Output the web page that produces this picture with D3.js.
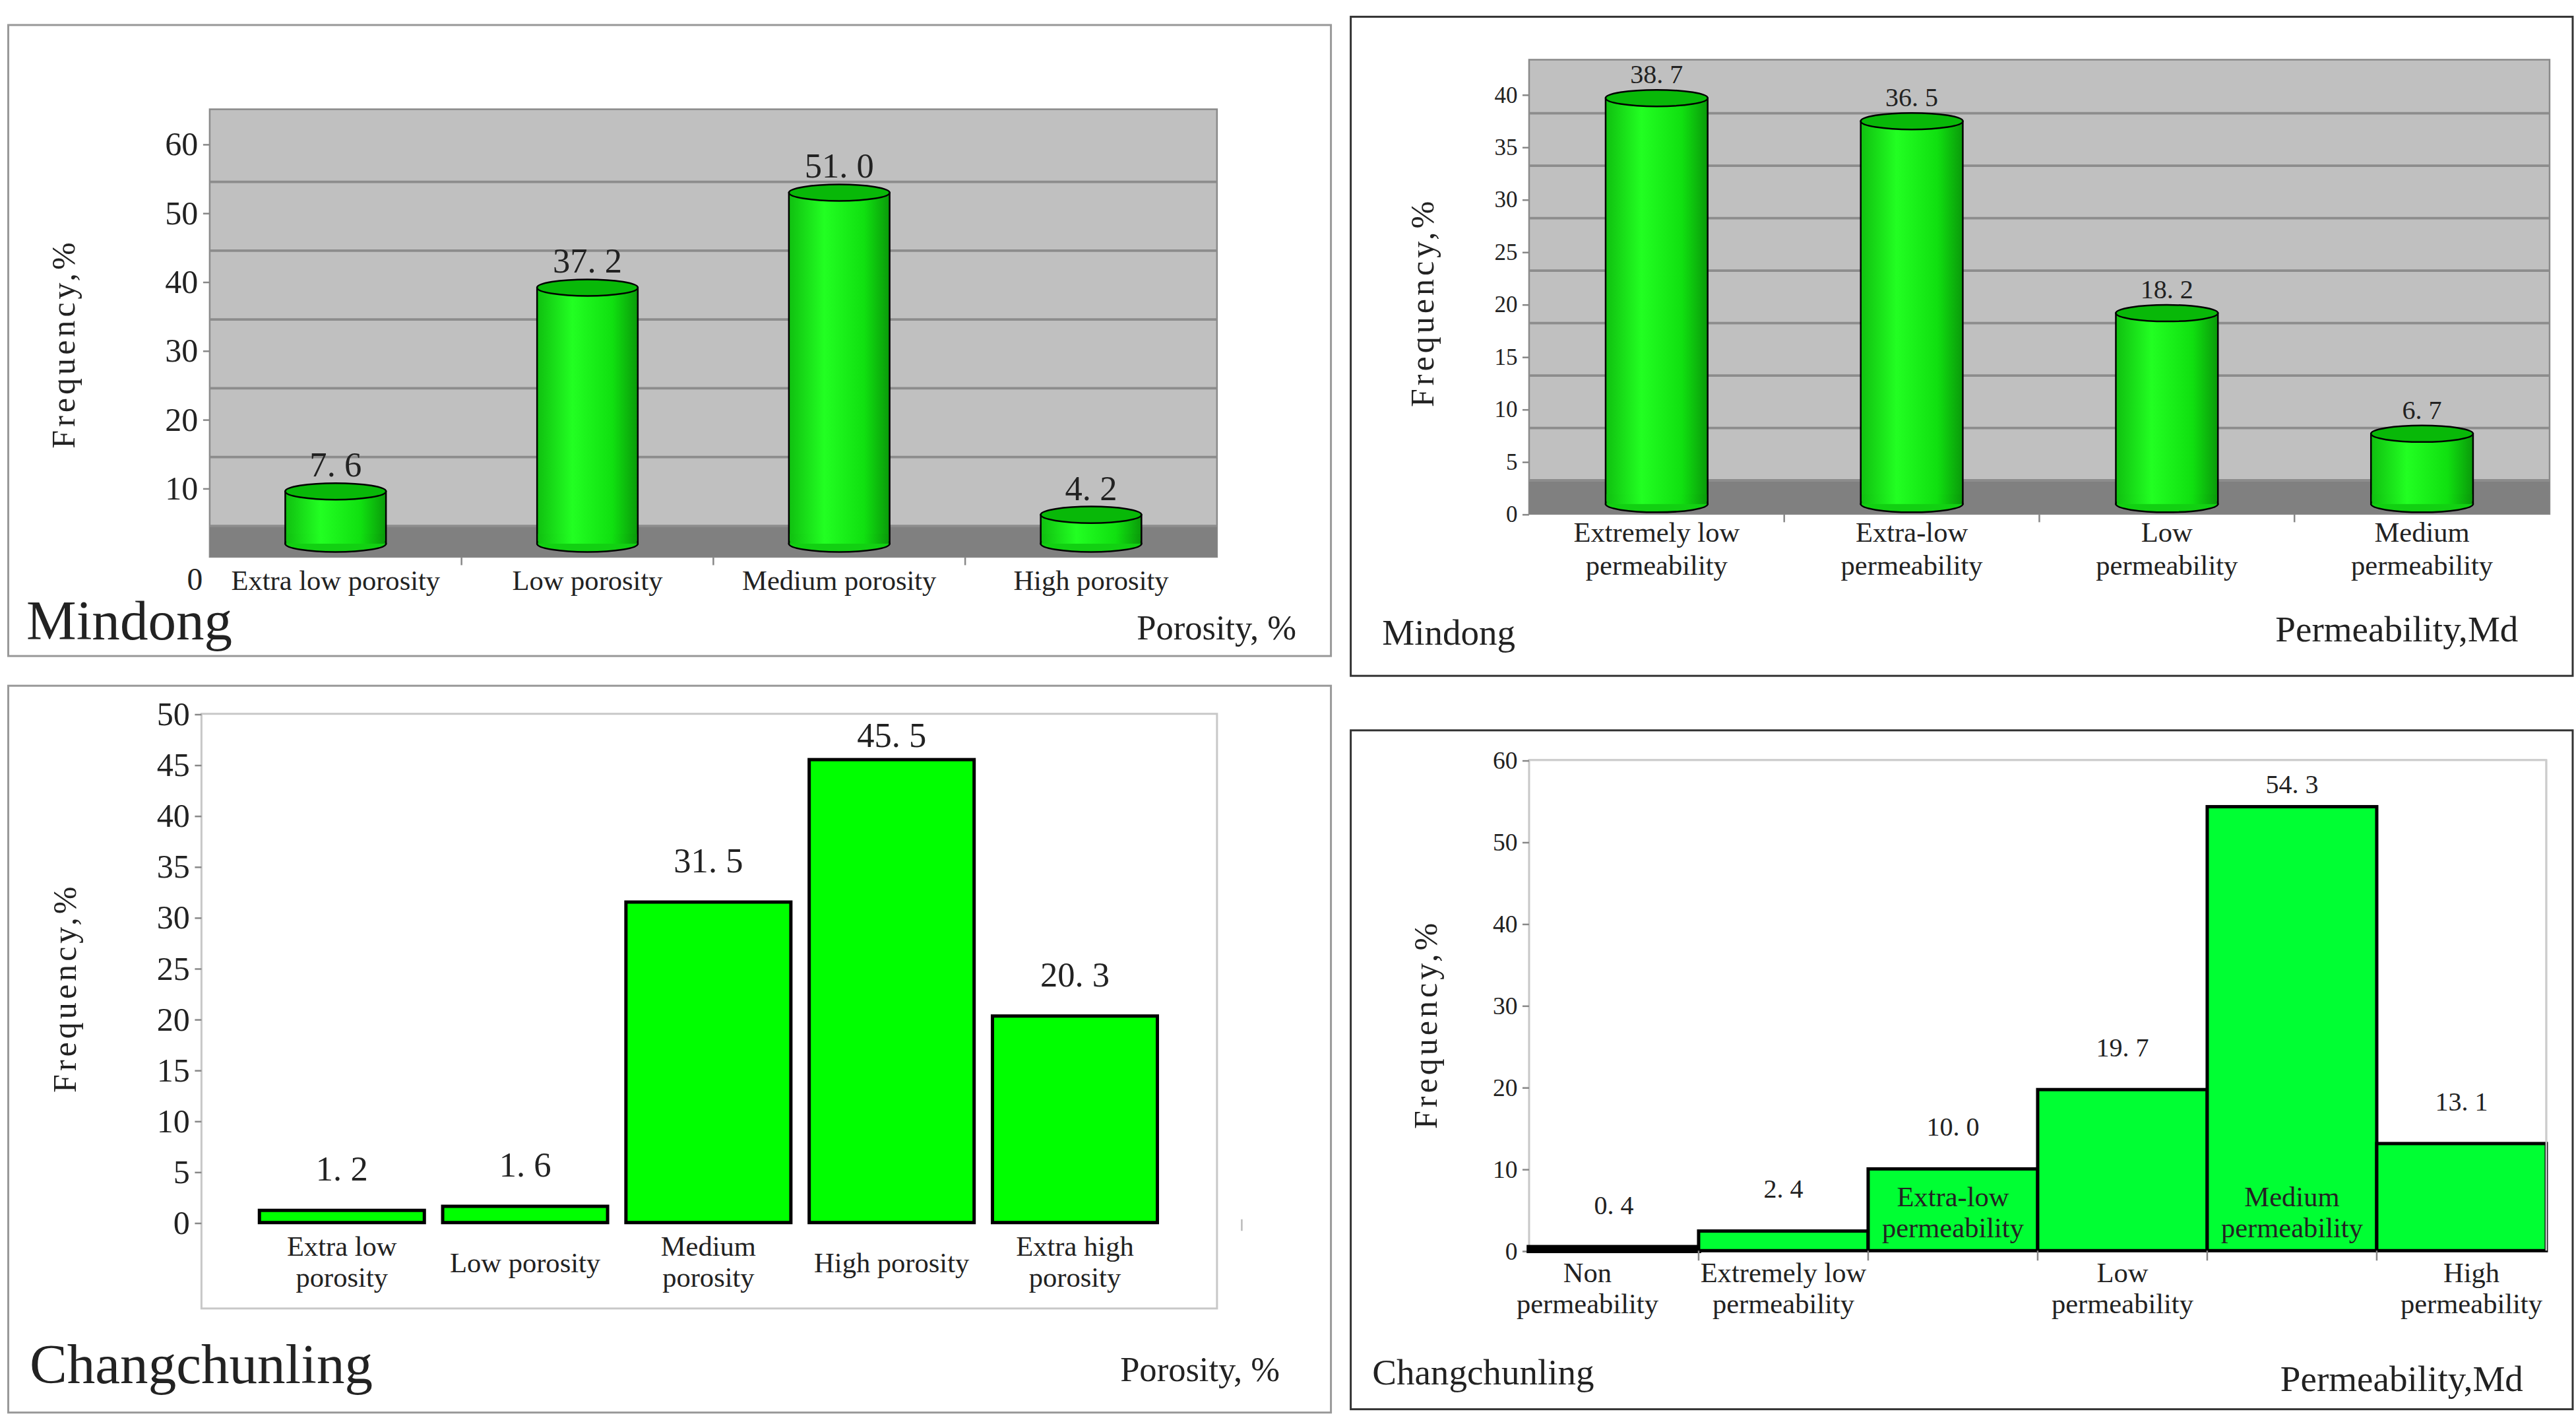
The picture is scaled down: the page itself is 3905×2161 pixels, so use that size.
<!DOCTYPE html>
<html><head><meta charset="utf-8">
<script src="https://cdnjs.cloudflare.com/ajax/libs/d3/7.8.5/d3.min.js"></script>
<style>body{margin:0;background:#fff}svg{display:block}text{font-family:"Liberation Serif","DejaVu Serif",serif;fill:#222}</style>
</head><body>
<script>
// data
var mdPoroCats = [["Extra  low porosity"],["Low porosity"],["Medium porosity"],["High porosity"]];
var mdPoroVals = [7.6, 37.2, 51.0, 4.2];
var mdPermCats = [["Extremely low","permeability"],["Extra-low","permeability"],["Low","permeability"],["Medium","permeability"]];
var mdPermVals = [38.7, 36.5, 18.2, 6.7];
var ccPoroCats = [["Extra  low","porosity"],["Low porosity"],["Medium","porosity"],["High porosity"],["Extra high","porosity"]];
var ccPoroVals = [1.2, 1.6, 31.5, 45.5, 20.3];
var ccPermCats = [["Non","permeability"],["Extremely low","permeability"],["Extra-low","permeability"],["Low","permeability"],["Medium","permeability"],["High","permeability"]];
var ccPermVals = [0.4, 2.4, 10.0, 19.7, 54.3, 13.1];
var ccPermInside = [false, false, true, false, true, false];

var svg = d3.select("body").append("svg").attr("width",3905).attr("height",2161).attr("viewBox","0 0 1560 863");
var defs = svg.append("defs");
var gr = defs.append("linearGradient").attr("id","cyl");
gr.append("stop").attr("offset","0%").attr("stop-color","#10c010");
gr.append("stop").attr("offset","35%").attr("stop-color","#22ff22");
gr.append("stop").attr("offset","75%").attr("stop-color","#10e010");
gr.append("stop").attr("offset","100%").attr("stop-color","#0a9a0a");

function frame(x,y,w,h,col){
  svg.append("rect").attr("x",x).attr("y",y).attr("width",w).attr("height",h).attr("fill","#fff").attr("stroke",col).attr("stroke-width",1.2);
}
function txt(x,y,s,fs,anchor){
  return svg.append("text").attr("x",x).attr("y",y).attr("text-anchor",anchor||"start").style("font-size",fs+"px").text(s);
}
function yLabel(x,y){
  svg.append("text").attr("transform","translate("+x+","+y+") rotate(-90)").attr("text-anchor","middle")
    .style("font-size","20px").style("letter-spacing","2px").text("Frequency,%");
}
function fmt(v){ return d3.format(".1f")(v).replace(".", ". "); }
function catLabels(x, cats, y0, lh, fs){
  cats.forEach(function(lines,i){
    lines.forEach(function(l,j){
      txt(x(i)+x.bandwidth()/2, y0+j*lh, l, fs, "middle");
    });
  });
}
function styleAxis(ax, fs){
  ax.select(".domain").remove();
  ax.selectAll("line").attr("stroke","#888");
  ax.selectAll("text").style("font-size",fs+"px").attr("font-family","Liberation Serif").attr("fill","#222");
}

// cylinder chart (Mindong)
function cylChart(o){
  var x = d3.scaleBand().domain(d3.range(o.vals.length)).range([o.x0,o.x1]);
  var y = d3.scaleLinear().domain([0,o.max]).range([o.y0,o.yTop]);
  var g = svg.append("g");
  g.append("rect").attr("x",o.x0).attr("y",o.plotTop).attr("width",o.x1-o.x0).attr("height",o.y0-o.plotTop).attr("fill","#c0c0c0").attr("stroke","#8a8a8a");
  g.append("rect").attr("x",o.x0).attr("y",y(o.band)).attr("width",o.x1-o.x0).attr("height",o.y0-y(o.band)).attr("fill","#808080");
  g.selectAll(".gl").data(o.grid).enter().append("line").attr("x1",o.x0).attr("x2",o.x1)
    .attr("y1",function(d){return y(d);}).attr("y2",function(d){return y(d);}).attr("stroke","#8c8c8c").attr("stroke-width",1.5);
  g.selectAll(".tk").data(d3.range(1,o.vals.length)).enter().append("line")
    .attr("x1",function(d){return x(d);}).attr("x2",function(d){return x(d);})
    .attr("y1",o.y0).attr("y2",o.y0+5).attr("stroke","#888");
  var ax = g.append("g").attr("transform","translate("+o.x0+",0)").call(d3.axisLeft(y).tickValues(o.ticks).tickSize(4).tickFormat(d3.format("d")));
  styleAxis(ax, o.tickFs);
  var ry = 5, s = o.shift, w = x.bandwidth()*o.wf;
  var bars = g.selectAll(".b").data(o.vals).enter().append("g");
  bars.append("rect").attr("x",function(d,i){return x(i)+(x.bandwidth()-w)/2;}).attr("y",function(d){return y(d)-s;})
    .attr("width",w).attr("height",function(d){return y(0)-y(d);}).attr("fill","url(#cyl)").attr("stroke","#000").attr("stroke-width",1);
  bars.append("ellipse").attr("cx",function(d,i){return x(i)+x.bandwidth()/2;}).attr("cy",function(d){return y(0)-s;})
    .attr("rx",w/2).attr("ry",ry).attr("fill","#12d012").attr("stroke","#000");
  bars.append("rect").attr("x",function(d,i){return x(i)+(x.bandwidth()-w)/2+0.6;}).attr("y",function(d){return y(0)-s-ry-1;})
    .attr("width",w-1.2).attr("height",ry+1).attr("fill","url(#cyl)");
  bars.append("ellipse").attr("cx",function(d,i){return x(i)+x.bandwidth()/2;}).attr("cy",function(d){return y(d)-s;})
    .attr("rx",w/2).attr("ry",ry).attr("fill","#08b808").attr("stroke","#000");
  bars.append("text").attr("x",function(d,i){return x(i)+x.bandwidth()/2;}).attr("y",function(d){return Math.max(y(d)-s-ry-4, o.plotTop+13);})
    .attr("text-anchor","middle").style("font-size",o.valFs+"px").text(function(d){return fmt(d);});
  return {x:x,y:y};
}

// flat bar chart (Changchunling)
function flatChart(o){
  var x = d3.scaleBand().domain(d3.range(o.vals.length)).range([o.x0,o.x1]).paddingInner(o.pad).paddingOuter(o.padOut);
  var y = d3.scaleLinear().domain([0,o.max]).range([o.y0,o.yTop]);
  var g = svg.append("g");
  g.append("rect").attr("x",o.fx0).attr("y",o.fy0).attr("width",o.fx1-o.fx0).attr("height",o.fy1-o.fy0).attr("fill","none").attr("stroke","#c8c8c8").attr("stroke-width",1.2);
  var ax = g.append("g").attr("transform","translate("+o.fx0+",0)").call(d3.axisLeft(y).tickValues(o.ticks).tickSize(4).tickFormat(d3.format("d")));
  styleAxis(ax, o.tickFs);
  g.selectAll(".b").data(o.vals).enter().append("rect")
    .attr("x",function(d,i){return x(i);}).attr("y",function(d){return y(d);})
    .attr("width",x.bandwidth()).attr("height",function(d){return y(0)-y(d);})
    .attr("fill",o.fill).attr("stroke","#000").attr("stroke-width",function(d){return d<1?3:2;});
  g.selectAll(".v").data(o.vals).enter().append("text")
    .attr("x",function(d,i){return x(i)+x.bandwidth()/2;}).attr("y",function(d){return Math.max(y(d)-o.valGap, o.fy0+20);})
    .attr("text-anchor","middle").style("font-size",o.valFs+"px").text(function(d){return fmt(d);});
  return {x:x,y:y};
}

// ---------- Panel 1: Mindong porosity ----------
frame(5,15,801,382,"#999");
var p1 = cylChart({vals:mdPoroVals,x0:127,x1:737,y0:337,yTop:87,max:60,plotTop:66,band:4.5,
  grid:[4.5,14.5,24.5,34.5,44.5,54.5],ticks:[10,20,30,40,50,60],shift:8,wf:0.4,tickFs:20,valFs:21});
txt(118,357,"0",19,"middle");
catLabels(p1.x, mdPoroCats, 357, 20, 17);
yLabel(45,208);
txt(16,387,"Mindong",34);
txt(785,387,"Porosity, %",21,"end");

// ---------- Panel 2: Mindong permeability ----------
frame(818,10,740,399,"#333");
var p2 = cylChart({vals:mdPermVals,x0:926,x1:1544,y0:311,yTop:57,max:40,plotTop:36,band:3.2,
  grid:[3.2,8.2,13.2,18.2,23.2,28.2,33.2,38.2],ticks:[0,5,10,15,20,25,30,35,40],shift:6,wf:0.4,tickFs:14,valFs:16});
catLabels(p2.x, mdPermCats, 328, 20, 17);
yLabel(868,183);
txt(837,390,"Mindong",22);
txt(1525,388,"Permeability,Md",22,"end");

// ---------- Panel 3: Changchunling porosity ----------
frame(5,415,801,440,"#999");
var p3 = flatChart({vals:ccPoroVals,x0:146,x1:712,pad:0.1,padOut:0.1,y0:740,yTop:432,max:50,
  fx0:122,fx1:737,fy0:432,fy1:792,ticks:d3.range(0,51,5),tickFs:20,valFs:21,valGap:18,fill:"#00ff00"});
svg.append("line").attr("x1",752).attr("x2",752).attr("y1",738).attr("y2",745).attr("stroke","#bbb");
ccPoroCats.forEach(function(lines,i){
  var x = p3.x, y0 = lines.length===1 ? 770 : 760;
  lines.forEach(function(l,j){ txt(x(i)+x.bandwidth()/2, y0+j*19, l, 17, "middle"); });
});
yLabel(46,598);
txt(18,837,"Changchunling",34);
txt(775,836,"Porosity, %",21,"end");

// ---------- Panel 4: Changchunling permeability ----------
frame(818,442,740,411,"#333");
var p4 = flatChart({vals:ccPermVals,x0:926,x1:1542,pad:0,padOut:0,y0:757,yTop:460,max:60,
  fx0:926,fx1:1542,fy0:460,fy1:757,ticks:[0,10,20,30,40,50,60],tickFs:15,valFs:16,valGap:20,fill:"#00ff33"});
svg.select("g:last-of-type").select("rect").attr("stroke","none");
svg.append("line").attr("x1",926).attr("x2",1542).attr("y1",460).attr("y2",460).attr("stroke","#ccc");
svg.append("line").attr("x1",1542).attr("x2",1542).attr("y1",460).attr("y2",757).attr("stroke","#ccc");
svg.selectAll(".xt").data(d3.range(1,ccPermVals.length)).enter().append("line")
  .attr("x1",function(d){return p4.x(d);}).attr("x2",function(d){return p4.x(d);})
  .attr("y1",757).attr("y2",763).attr("stroke","#888");
ccPermCats.forEach(function(lines,i){
  var x = p4.x, cx = x(i)+x.bandwidth()/2, y0 = ccPermInside[i] ? 730 : 776;
  if (i===0) cx -= 16;
  if (i===5) cx += 6;
  lines.forEach(function(l,j){ txt(cx, y0+j*19, l, 17, "middle"); });
});
yLabel(870,620);
txt(831,838,"Changchunling",22);
txt(1528,842,"Permeability,Md",22,"end");
</script></body></html>
